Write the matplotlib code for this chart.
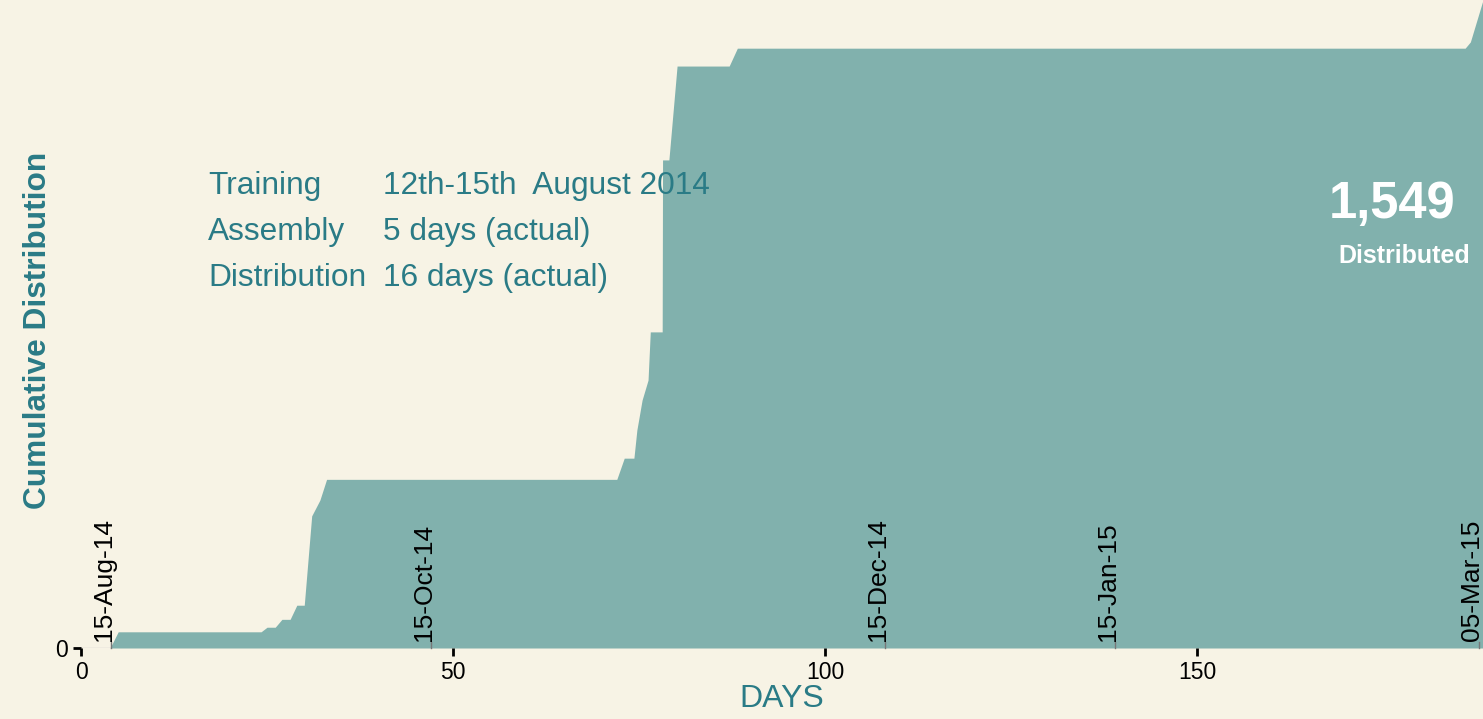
import matplotlib.pyplot as plt

BG = "#f7f3e5"
FILL = "#81b1ad"
TEAL = "#2a7b86"

# cumulative distribution
days = [0, 3.9, 5.0, 24.2, 25.0, 26.1, 27.0, 28.1, 29.0, 30.0, 31.0, 32.1, 33.0,
        72.0, 73.0, 74.3, 74.7, 75.4, 76.2, 76.5, 78.1, 78.15, 79.0, 80.1,
        87.1, 88.2, 186.0, 186.7, 188.4]
cumulative = [0, 0, 39, 39, 50, 50, 69, 69, 103, 103, 318, 356, 406,
              406, 457, 457, 525, 597, 645, 761, 761, 1175, 1175, 1401,
              1401, 1444, 1444, 1459, 1560]

date_days = [4, 47, 108, 139, 187.8]
date_labels = ["15-Aug-14", "15-Oct-14", "15-Dec-14", "15-Jan-15", "05-Mar-15"]

info_keys = ["Training", "Assembly", "Distribution"]
info_vals = ["12th-15th  August 2014", "5 days (actual)", "16 days (actual)"]

total = "1,549"

plt.rcParams["font.family"] = ["Liberation Sans", "DejaVu Sans"]

fig = plt.figure(figsize=(14.83, 7.19), dpi=100, facecolor=BG)
ax = fig.add_axes([81 / 1483, 71 / 719, 1 - 81 / 1483, 648 / 719])
ax.set_facecolor(BG)

ax.fill_between(days, cumulative, 0, color=FILL, linewidth=0)
ax.axhline(0, color="#cfcfcf", lw=1, zorder=0)

ax.set_xlim(0, 188.4)
ax.set_ylim(0, 1560)
for s in ax.spines.values():
    s.set_visible(False)

ax.set_xticks([0, 50, 100, 150])
ax.set_yticks([0])
ax.tick_params(axis="both", labelsize=16.5, length=6, width=2, color="black")
ax.set_xlabel("DAYS", fontsize=23, color=TEAL, labelpad=0)
ax.set_ylabel("Cumulative Distribution", fontsize=22.8, color=TEAL,
              fontweight="bold", labelpad=0)
ax.yaxis.set_label_coords(-28 / (1483 - 81), (648 - 330) / 648)

for d, lab in zip(date_days, date_labels):
    ax.plot([d, d], [0, 15], color="#777777", lw=1, clip_on=False)
    ax.annotate(lab, (d, 0), xytext=(-7, 7), textcoords="offset pixels",
                rotation=90, ha="center", va="bottom", fontsize=19,
                color="black", annotation_clip=False)

for i, (k, v) in enumerate(zip(info_keys, info_vals)):
    y = 1 - (186 + 46 * i) / 719
    fig.text(208 / 1483, y, k, fontsize=22.8, color=TEAL, va="center")
    fig.text(383 / 1483, y, v, fontsize=22.8, color=TEAL, va="center")

fig.text(1392 / 1483, 1 - 204 / 719, total, fontsize=36.5, color="white",
         fontweight="bold", ha="center", va="center")
fig.text(1404 / 1483, 1 - 256 / 719, "Distributed", fontsize=18, color="white",
         fontweight="bold", ha="center", va="center")

fig.savefig("out.png", dpi=100, facecolor=BG)
